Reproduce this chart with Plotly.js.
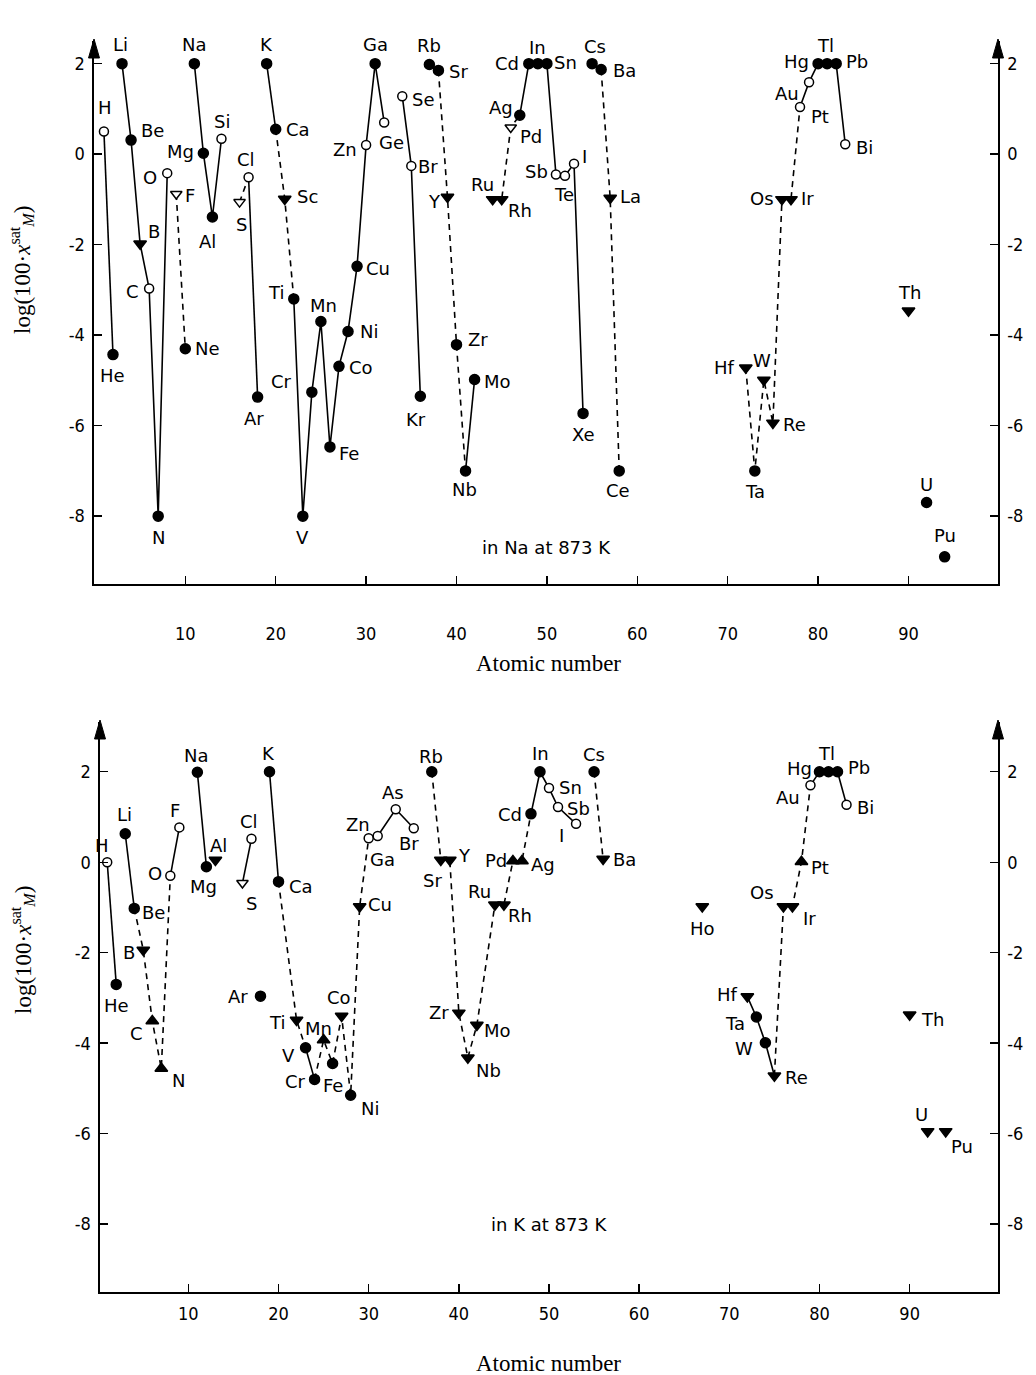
<!DOCTYPE html>
<html><head><meta charset="utf-8">
<script src="https://cdn.plot.ly/plotly-3.0.1.min.js"></script>
<style>html,body{margin:0;padding:0;background:#fff}#chart{width:1036px;height:1375px}</style>
</head><body><div id="chart"></div>
<script>
// ---------- solubility in Na at 873 K ----------
const naSym = ['H','He','Li','Be','B','C','N','O','F','Ne','Na','Mg','Al','Si','S','Cl','Ar','K','Ca','Sc','Ti','V','Cr','Mn','Fe','Co','Ni','Cu','Zn','Ga','Ge','Se','Br','Kr','Rb','Sr','Y','Zr','Nb','Mo','Ru','Rh','Pd','Ag','Cd','In','Sn','Sb','Te','I','Xe','Cs','Ba','La','Ce','Hf','Ta','W','Re','Os','Ir','Pt','Au','Hg','Tl','Pb','Bi','Th','U','Pu'];
const naZ   = [1,2,3,4,5,6,7,8,9,10,11,12,13,14,16,17,18,19,20,21,22,23,24,25,26,27,28,29,30,31,32,34,35,36,37,38,39,40,41,42,44,45,46,47,48,49,50,51,52,53,54,55,56,57,58,72,73,74,75,76,77,78,79,80,81,82,83,90,92,94];
const naVal = [0.50,-4.43,2.0,0.31,-1.98,-2.97,-8.0,-0.42,-0.88,-4.30,2.0,0.02,-1.39,0.34,-1.06,-0.51,-5.37,2.0,0.55,-0.99,-3.2,-8.0,-5.26,-3.70,-6.47,-4.69,-3.92,-2.48,0.20,2.0,0.70,1.28,-0.26,-5.35,1.98,1.85,-0.95,-4.21,-7.0,-4.98,-1.0,-1.0,0.59,0.86,2.0,2.0,2.0,-0.45,-0.48,-0.21,-5.73,2.0,1.87,-0.97,-7.0,-4.72,-7.0,-4.99,-5.94,-1.0,-1.0,1.04,1.59,2.0,2.0,2.0,0.22,-3.46,-7.7,-8.9];
// f = measured (filled circle), o = open circle, v = upper limit (filled down triangle), vo = open down triangle, ^ = filled up triangle
const naKind = ['o','f','f','f','v','o','f','o','vo','f','f','f','f','o','vo','o','f','f','f','v','f','f','f','f','f','f','f','f','o','f','o','o','o','f','f','f','v','f','f','f','v','v','vo','f','f','f','f','o','o','o','f','f','f','v','f','v','f','v','v','v','v','o','o','f','f','f','o','v','f','f'];
const naSolid = [['H','He'],['Li','Be','B','C','N','O'],['Na','Mg','Al','Si'],['Cl','Ar'],['K','Ca'],['Ti','V','Cr','Mn','Fe','Co','Ni','Cu','Zn','Ga','Ge'],['Se','Br','Kr'],['Rb','Sr'],['Nb','Mo'],['Ag','Cd','In','Sn','Sb','Te','I','Xe'],['Cs','Ba'],['Pt','Au','Hg','Tl','Pb','Bi']];
const naDashed = [['F','Ne'],['S','Cl'],['Ca','Sc','Ti'],['Sr','Y','Zr','Nb'],['Ru','Rh','Pd','Ag'],['Ba','La','Ce'],['Hf','Ta','W','Re','Os','Ir','Pt']];

// ---------- solubility in K at 873 K ----------
const kSym = ['H','He','Li','Be','B','C','N','O','F','Na','Mg','Al','S','Cl','Ar','K','Ca','Ti','V','Cr','Mn','Fe','Co','Ni','Cu','Zn','Ga','As','Br','Rb','Sr','Y','Zr','Nb','Mo','Ru','Rh','Pd','Ag','Cd','In','Sn','Sb','I','Cs','Ba','Ho','Hf','Ta','W','Re','Os','Ir','Pt','Au','Hg','Tl','Pb','Bi','Th','U','Pu'];
const kZ   = [1,2,3,4,5,6,7,8,9,11,12,13,16,17,18,19,20,22,23,24,25,26,27,28,29,30,31,33,35,37,38,39,40,41,42,44,45,46,47,48,49,50,51,53,55,56,67,72,73,74,75,76,77,78,79,80,81,82,83,90,92,94];
const kVal = [0.0,-2.70,0.63,-1.02,-1.94,-3.51,-4.56,-0.30,0.77,1.99,-0.10,0.05,-0.46,0.52,-2.96,2.0,-0.43,-3.49,-4.10,-4.80,-3.93,-4.45,-3.40,-5.15,-0.98,0.53,0.58,1.17,0.75,2.0,0.05,0.05,-3.33,-4.32,-3.60,-0.94,-0.94,0.03,0.03,1.07,2.0,1.64,1.22,0.85,2.0,0.07,-0.98,-2.97,-3.42,-3.99,-4.72,-0.98,-0.98,0.01,1.70,2.0,2.0,2.0,1.27,-3.37,-5.95,-5.95];
const kKind = ['o','f','f','f','v','^','^','o','o','f','f','v','vo','o','f','f','f','v','f','f','^','f','v','f','v','o','o','o','o','f','v','v','v','v','v','v','v','^','^','f','f','o','o','o','f','v','v','v','f','f','v','v','v','^','o','f','f','f','o','v','v','v'];
const kSolid = [['H','He'],['Li','Be'],['O','F'],['Na','Mg'],['Cl','S'],['K','Ca'],['V','Cr'],['Zn','Ga','As','Br'],['Cd','In','Sn','Sb','I'],['Hf','Ta','W','Re'],['Au','Hg','Tl','Pb','Bi']];
const kDashed = [['Be','B','C','N','O'],['Ca','Ti','V'],['Cr','Mn','Fe','Co','Ni','Cu','Zn'],['Rb','Sr','Y','Zr','Nb','Mo','Ru','Rh','Pd','Ag','Cd'],['Cs','Ba'],['Re','Os','Ir','Pt','Au']];

const xTickVals = [10,20,30,40,50,60,70,80,90];
const xTickText = ['10','20','30','40','50','60','70','80','90'];
const yTickVals = [2,0,-2,-4,-6,-8];
const yTickText = ['2','0','-2','-4','-6','-8'];
const panelNotes = ['in Na at 873 K','in K at 873 K'];
const xTitle = 'Atomic number';
const yTitle = 'log(100·<i>x</i><sup>sat</sup><sub><i>M</i></sub>)';

// ---------- label placement (pixel offsets from the marker: dx right, dy down) ----------
const naLab = {H:[1,-24],He:[0,21],Li:[-2,-19],Be:[21,-10],B:[14,-12],C:[-17,3],N:[0,21],O:[-17,4],F:[14,2],Ne:[22,0],Na:[0,-19],Mg:[-23,-2],Al:[-5,24],Si:[1,-17],S:[2,22],Cl:[-3,-18],Ar:[-4,21],K:[0,-19],Ca:[22,0],Sc:[23,-2],Ti:[-18,-6],V:[0,21],Cr:[-30,-11],Mn:[3,-16],Fe:[19,7],Co:[22,1],Ni:[21,0],Cu:[21,2],Zn:[-21,4],Ga:[0,-19],Ge:[7,20],Se:[21,3],Br:[17,1],Kr:[-4,23],Rb:[0,-19],Sr:[20,1],Y:[-13,4],Zr:[21,-5],Nb:[-1,19],Mo:[23,2],Ru:[-10,-15],Rh:[18,11],Pd:[20,9],Ag:[-19,-8],Cd:[-22,0],In:[0,-16],Sn:[19,-1],Sb:[-19,-3],Te:[-1,19],I:[10,-7],Xe:[0,21],Cs:[3,-17],Ba:[23,1],La:[20,-2],Ce:[-1,20],Hf:[-21,0],Ta:[0,21],W:[-2,-19],Re:[22,2],Os:[-20,-1],Ir:[17,-1],Pt:[20,9],Au:[-22,11],Hg:[-22,-2],Tl:[-2,-18],Pb:[21,-2],Bi:[19,3],Th:[1,-18],U:[0,-18],Pu:[0,-21]};
const kLab = {H:[-5,-17],He:[0,21],Li:[-1,-19],Be:[19,4],B:[-14,2],C:[-16,12],N:[17,12],O:[-15,-2],F:[-4,-17],Na:[-1,-17],Mg:[-3,20],Al:[3,-14],Cl:[-2,-17],S:[9,20],Ar:[-22,0],K:[-1,-18],Ca:[22,5],Ti:[-20,2],V:[-17,8],Cr:[-19,2],Mn:[-5,-12],Fe:[0,22],Co:[-3,-19],Ni:[19,13],Cu:[20,-2],Zn:[-11,-14],Ga:[5,23],As:[-3,-17],Br:[-5,15],Rb:[-1,-15],Sr:[-8,21],Y:[15,-4],Zr:[-20,0],Nb:[21,13],Mo:[21,5],Ru:[-15,-13],Rh:[16,11],Pd:[-17,0],Ag:[21,4],Cd:[-21,1],In:[1,-18],Sn:[21,-1],Sb:[20,1],I:[-15,12],Cs:[0,-17],Ba:[21,0],Ho:[0,22],Hf:[-20,-2],Ta:[-21,7],W:[-21,6],Re:[22,2],Os:[-21,-14],Ir:[17,12],Pt:[19,6],Au:[-22,12],Hg:[-20,-3],Tl:[-2,-18],Pb:[21,-4],Bi:[19,3],Th:[23,5],U:[-6,-17],Pu:[16,15]};

const W = 1036, H = 1375;
const LABEL_FONT = {family:'DejaVu Sans, Liberation Sans, sans-serif', size:18, color:'#000'};
const TICK_FONT = {family:'DejaVu Sans Condensed, Liberation Sans Narrow, DejaVu Sans, sans-serif', size:18, color:'#000'};
const SERIF = {family:'Liberation Serif, DejaVu Serif, serif', size:23, color:'#000'};

const markerStyle = {
  'f':  {symbol:'circle', color:'#000', size:10},
  'o':  {symbol:'circle', color:'#fff', size:9},
  'v':  {symbol:'triangle-down', color:'#000', size:11},
  'vo': {symbol:'triangle-down', color:'#fff', size:10},
  '^':  {symbol:'triangle-up', color:'#000', size:11}
};

const traces = [];
const annotations = [];
const shapes = [];

function addPanel(sym, Z, val, kind, solid, dashed, lab, xa, ya, note, noteY) {
  const idx = {};
  sym.forEach((s,i)=>{ idx[s]=i; });
  const addChains = (chains, dash) => chains.forEach(ch => {
    traces.push({type:'scatter', mode:'lines', xaxis:xa, yaxis:ya,
      x: ch.map(s=>Z[idx[s]]), y: ch.map(s=>val[idx[s]]),
      line:{color:'#000', width:1.6, dash:dash}, hoverinfo:'skip', showlegend:false, cliponaxis:false});
  });
  addChains(solid, 'solid');
  addChains(dashed, '6px,5px');
  traces.push({type:'scatter', mode:'markers', xaxis:xa, yaxis:ya, x:Z, y:val, text:sym, opacity:1,
    marker:{symbol:kind.map(k=>markerStyle[k].symbol), color:kind.map(k=>markerStyle[k].color),
      size:kind.map(k=>markerStyle[k].size), opacity:1, line:{color:'#000', width:1.5}},
    showlegend:false, cliponaxis:false, hoverinfo:'text'});
  const xr = xa;
  const yr = ya;
  sym.forEach((s,i)=>{
    const o = lab[s] || [0,-18];
    annotations.push({x:Z[i], y:val[i], xref:xr, yref:yr, text:s, showarrow:false,
      xshift:o[0], yshift:-o[1], font:LABEL_FONT, xanchor:'center', yanchor:'middle'});
  });
  annotations.push({x:50, y:noteY, xref:xr, yref:yr, text:note, showarrow:false, font:LABEL_FONT,
    xanchor:'center', yanchor:'middle'});
}

addPanel(naSym, naZ, naVal, naKind, naSolid, naDashed, naLab, 'x', 'y', panelNotes[0], -8.7);
addPanel(kSym, kZ, kVal, kKind, kSolid, kDashed, kLab, 'x2', 'y2', panelNotes[1], -8.0);
// carriers for the right-hand axes
traces.push({type:'scatter', mode:'markers', x:[null], y:[null], xaxis:'x', yaxis:'y3', showlegend:false, hoverinfo:'skip'});
traces.push({type:'scatter', mode:'markers', x:[null], y:[null], xaxis:'x2', yaxis:'y4', showlegend:false, hoverinfo:'skip'});

// panel geometry in pixels
const P1 = {l:94, r:998, t:41, b:584, yr:[-9.5, 2.5], xr:[-0.1, 99.9], stand:33};
const P2 = {l:100, r:998, t:722, b:1292, yr:[-9.5, 3.1], xr:[0.2, 99.8], stand:5};
const dom = p => ({x:[p.l/W, p.r/W], y:[1-p.b/H, 1-p.t/H]});

function xAx(p, anchor) {
  return {domain:dom(p).x, range:p.xr, anchor:anchor, tickmode:'array', tickvals:xTickVals, ticktext:xTickText,
    ticks:'inside', ticklen:8, tickwidth:1.4, tickcolor:'#000', showline:true, linewidth:1.6, linecolor:'#000',
    showgrid:false, zeroline:false, tickfont:TICK_FONT, ticklabelstandoff:p.stand, fixedrange:true};
}
function yAx(p, anchor, side, over) {
  const a = {domain:dom(p).y, range:p.yr, anchor:anchor, side:side, tickmode:'array', tickvals:yTickVals, ticktext:yTickText,
    ticks:'inside', ticklen:8, tickwidth:1.4, tickcolor:'#000', showline:true, linewidth:1.6, linecolor:'#000',
    showgrid:false, zeroline:false, tickfont:TICK_FONT, ticklabelstandoff:4, fixedrange:true};
  if (over) a.overlaying = over;
  return a;
}

// arrowheads on top of the vertical axes
function arrow(px, py) {
  const w = 5.5, h = 17;
  const X = v => v/W, Y = v => 1 - v/H;
  shapes.push({type:'path', xref:'paper', yref:'paper',
    path:`M ${X(px)} ${Y(py-2)} L ${X(px-w)} ${Y(py+h)} L ${X(px+w)} ${Y(py+h)} Z`,
    fillcolor:'#000', line:{color:'#000', width:1}});
}
[P1,P2].forEach(p=>{ arrow(p.l, p.t); arrow(p.r, p.t); });

// axis titles
const titleAnn = (x, y, text, angle) => ({xref:'paper', yref:'paper', x:x/W, y:1-y/H, text:text, textangle:angle,
  showarrow:false, font:SERIF, xanchor:'center', yanchor:'middle'});
annotations.push(titleAnn(548, 663, xTitle, 0));
annotations.push(titleAnn(548, 1363, xTitle, 0));
annotations.push(titleAnn(22, 270, yTitle, -90));
annotations.push(titleAnn(22, 950, yTitle, -90));

const layout = {
  width:W, height:H, margin:{l:0, r:0, t:0, b:0}, paper_bgcolor:'#fff', plot_bgcolor:'#fff',
  showlegend:false,
  xaxis:xAx(P1,'y'), yaxis:yAx(P1,'x','left'), yaxis3:yAx(P1,'x','right','y'),
  xaxis2:xAx(P2,'y2'), yaxis2:yAx(P2,'x2','left'), yaxis4:yAx(P2,'x2','right','y2'),
  annotations:annotations, shapes:shapes
};
Plotly.newPlot('chart', traces, layout, {displayModeBar:false, staticPlot:true});
</script>
</body></html>
